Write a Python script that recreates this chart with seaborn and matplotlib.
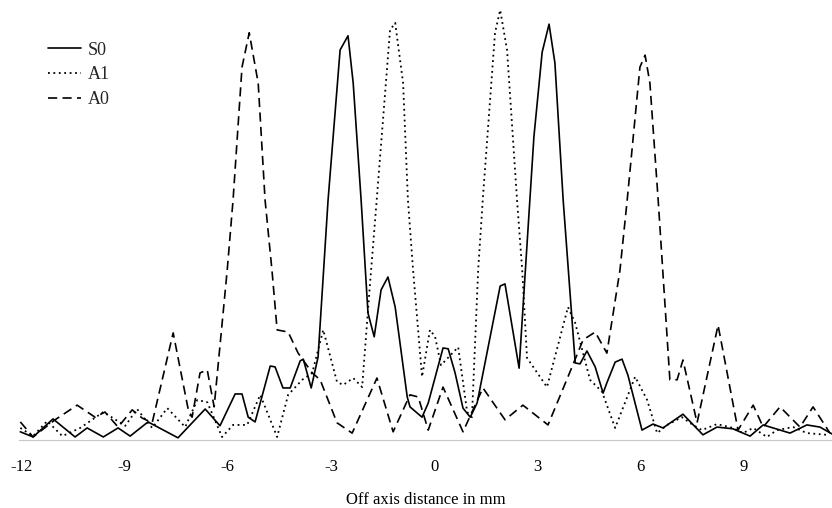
import matplotlib
matplotlib.use("Agg")
import matplotlib.pyplot as plt
import seaborn as sns

# Off-axis amplitude profiles (normalised) for three Lamb modes
s0_x = [-12.02, -11.65, -11.07, -10.43, -10.08, -9.61, -9.18, -8.83, -8.31, -7.44,
        -6.65, -6.22, -5.78, -5.58, -5.40, -5.20, -4.76, -4.62, -4.39, -4.18,
        -3.89, -3.80, -3.57, -3.37, -3.08, -2.73, -2.50, -2.35, -2.12, -1.92,
        -1.74, -1.54, -1.34, -1.13, -0.78, -0.70, -0.35, -0.17, 0.26, 0.41,
        0.61, 0.84, 1.05, 1.25, 1.92, 2.06, 2.47, 2.90, 3.14, 3.34,
        3.51, 3.75, 4.10, 4.24, 4.44, 4.68, 4.91, 5.02, 5.26, 5.46,
        5.63, 6.04, 6.36, 6.65, 7.23, 7.81, 8.22, 8.68, 9.18, 9.56,
        10.34, 10.83, 11.21, 11.56]
s0_y = [0.019, 0.007, 0.049, 0.007, 0.028, 0.007, 0.028, 0.009, 0.042, 0.005,
        0.072, 0.033, 0.107, 0.107, 0.053, 0.042, 0.172, 0.170, 0.121, 0.121,
        0.184, 0.188, 0.121, 0.193, 0.558, 0.907, 0.940, 0.830, 0.558, 0.295,
        0.240, 0.349, 0.379, 0.309, 0.100, 0.077, 0.053, 0.086, 0.214, 0.212,
        0.156, 0.074, 0.053, 0.086, 0.358, 0.363, 0.167, 0.705, 0.902, 0.967,
        0.877, 0.558, 0.179, 0.177, 0.207, 0.170, 0.109, 0.133, 0.181, 0.188,
        0.151, 0.023, 0.037, 0.028, 0.060, 0.012, 0.030, 0.026, 0.009, 0.035,
        0.016, 0.035, 0.030, 0.014]

a1_x = [-12.02, -11.65, -11.24, -10.80, -10.28, -9.61, -8.97, -8.63, -8.19, -7.75,
        -7.23, -6.88, -6.59, -6.16, -5.84, -5.43, -5.05, -4.56, -4.24, -3.83,
        -3.54, -3.22, -2.82, -2.64, -2.35, -2.09, -1.86, -1.66, -1.28, -1.13,
        -0.90, -0.76, -0.61, -0.35, -0.12, 0.03, 0.20, 0.70, 0.96, 1.10,
        1.28, 1.42, 1.77, 1.92, 2.12, 2.41, 2.56, 2.70, 3.28, 3.89,
        4.10, 4.53, 4.88, 5.26, 5.84, 6.19, 6.48, 6.77, 7.20, 7.52,
        7.78, 8.22, 8.68, 8.97, 9.27, 9.67, 9.96, 10.43, 10.83, 11.41]
a1_y = [0.028, 0.009, 0.044, 0.009, 0.028, 0.065, 0.033, 0.072, 0.028, 0.074,
        0.030, 0.093, 0.088, 0.007, 0.035, 0.035, 0.105, 0.007, 0.105, 0.140,
        0.156, 0.256, 0.135, 0.128, 0.144, 0.123, 0.365, 0.565, 0.953, 0.970,
        0.830, 0.558, 0.395, 0.147, 0.256, 0.240, 0.174, 0.216, 0.065, 0.053,
        0.395, 0.565, 0.947, 1.000, 0.907, 0.558, 0.395, 0.191, 0.123, 0.309,
        0.272, 0.140, 0.112, 0.028, 0.147, 0.093, 0.016, 0.035, 0.053, 0.035,
        0.023, 0.037, 0.028, 0.016, 0.028, 0.007, 0.023, 0.030, 0.016, 0.012]

a0_x = [-12.02, -11.65, -11.01, -10.37, -9.85, -9.56, -9.18, -8.77, -8.48, -8.19,
        -7.58, -7.14, -7.03, -6.80, -6.59, -6.39, -6.01, -5.84, -5.58, -5.37,
        -5.11, -4.91, -4.71, -4.56, -4.24, -3.95, -3.54, -3.31, -2.82, -2.38,
        -1.66, -1.19, -0.70, -0.46, -0.17, 0.26, 0.84, 1.42, 2.06, 2.58,
        3.31, 3.89, 4.33, 4.68, 5.02, 5.40, 5.61, 5.98, 6.13, 6.27,
        6.51, 6.85, 7.06, 7.23, 7.64, 8.25, 8.83, 9.27, 9.56, 10.05,
        10.63, 11.01, 11.50]
a0_y = [0.042, 0.007, 0.047, 0.081, 0.053, 0.065, 0.030, 0.070, 0.051, 0.040,
        0.249, 0.070, 0.053, 0.156, 0.163, 0.077, 0.395, 0.558, 0.867, 0.947,
        0.830, 0.558, 0.395, 0.256, 0.251, 0.202, 0.156, 0.140, 0.040, 0.016,
        0.144, 0.019, 0.105, 0.100, 0.023, 0.123, 0.019, 0.121, 0.047, 0.081,
        0.035, 0.147, 0.233, 0.251, 0.202, 0.395, 0.558, 0.867, 0.895, 0.830,
        0.558, 0.140, 0.140, 0.186, 0.040, 0.267, 0.023, 0.081, 0.030, 0.077,
        0.030, 0.077, 0.016]

tick_pos = [-12, -9, -6, -3, 0, 3, 6, 9]
tick_labels = ["-12", "-9", "-6", "-3", "0", "3", "6", "9"]
x_label = "Off axis distance in mm"

sns.set_theme(style="white")
plt.rcParams["font.family"] = ["Liberation Serif", "DejaVu Serif"]

fig = plt.figure(figsize=(8.32, 5.08), dpi=100)
ax = fig.add_axes([0.0232, 0.1339, 0.9768, 0.8634])

sns.lineplot(x=s0_x, y=s0_y, ax=ax, color="black", lw=1.2, label="S0",
             errorbar=None, sort=False)
sns.lineplot(x=a1_x, y=a1_y, ax=ax, color="black", lw=1.3, label="A1",
             errorbar=None, sort=False, linestyle=(0, (1, 2.0)))
sns.lineplot(x=a0_x, y=a0_y, ax=ax, color="black", lw=1.2, label="A0",
             errorbar=None, sort=False, linestyle=(0, (5.5, 3.2)))

ax.set_xlim(-12.05, 11.56)
ax.set_ylim(0, 1.02)
ax.set_xticks(tick_pos)
ax.set_xticklabels(tick_labels, fontsize=12, color="black")
ax.set_yticks([])
ax.tick_params(axis="x", length=0, pad=14)
ax.set_xlabel(x_label, fontsize=12, color="black", labelpad=12)

for side in ("top", "right", "left"):
    ax.spines[side].set_visible(False)
ax.spines["bottom"].set_color("#c8c8c8")
ax.spines["bottom"].set_linewidth(0.8)
ax.set_facecolor("white")

ax.legend(loc="upper left", bbox_to_anchor=(0.0577, 0.918),
          bbox_transform=fig.transFigure, frameon=False, fontsize=13,
          handlelength=1.85, handletextpad=0.35, labelspacing=0.42,
          borderpad=0, borderaxespad=0)

fig.savefig("out.png", dpi=100, facecolor="white")
